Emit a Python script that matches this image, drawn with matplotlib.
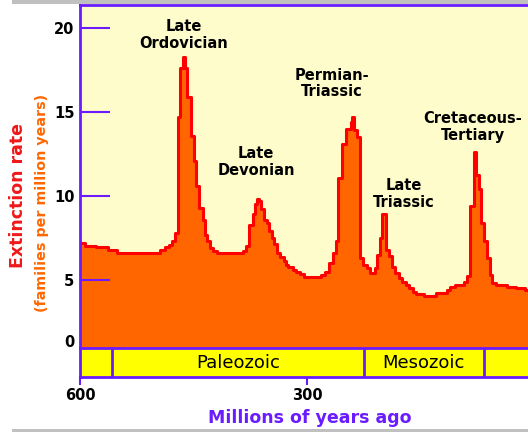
import matplotlib.pyplot as plt
from matplotlib.patches import Rectangle

# Extinction rate (families per million years), step curve
ages = [600, 593, 579, 563, 551, 494, 488, 482, 478, 474, 471, 468, 464, 461,
        459, 453, 449, 447, 443, 438, 435, 432, 428, 424, 419, 384, 380, 376,
        372, 369, 366, 363, 361, 357, 353, 350, 346, 344, 339, 336, 331, 328,
        325, 319, 314, 309, 304, 282, 276, 271, 266, 262, 259, 254, 248, 242,
        240, 238, 234, 230, 226, 221, 217, 210, 207, 204, 201, 196, 191, 188,
        184, 179, 175, 169, 165, 160, 156, 146, 130, 115, 111, 104, 93, 88,
        84, 79, 76, 73, 70, 66, 62, 58, 55, 50, 36, 24, 12, 0]
rates = [7.2, 7.05, 6.95, 6.8, 6.6, 6.8, 6.95, 7.1, 7.3, 7.8, 14.7, 17.6, 18.3, 17.6,
         15.9, 13.6, 12.1, 10.6, 9.3, 8.6, 7.7, 7.3, 6.9, 6.75, 6.6, 6.75, 7.0, 8.3,
         8.9, 9.5, 9.8, 9.7, 9.2, 8.6, 8.4, 7.9, 7.5, 7.15, 6.6, 6.35, 6.1, 5.9,
         5.75, 5.6, 5.5, 5.35, 5.15, 5.3, 5.5, 6.0, 6.6, 7.3, 11.05, 13.1, 14.0, 14.4,
         14.7, 13.9, 13.5, 6.3, 5.9, 5.7, 5.4, 5.7, 6.5, 7.5, 8.9, 6.8, 6.4, 5.8,
         5.4, 5.1, 4.85, 4.7, 4.5, 4.3, 4.15, 4.05, 4.2, 4.4, 4.6, 4.7, 4.9, 5.25,
         9.4, 12.6, 11.25, 10.4, 8.4, 7.3, 6.3, 5.3, 4.8, 4.7, 4.6, 4.5, 4.4, 4.4]

# mass extinction labels
events = ['Late\nOrdovician', 'Late\nDevonian', 'Permian-\nTriassic',
          'Late\nTriassic', 'Cretaceous-\nTertiary']
event_age = [463, 367, 267, 172, 81]
event_rate = [19.6, 12.0, 16.7, 10.1, 14.1]

# geologic eras along the bottom
era_bounds = [600, 558, 225, 66, 0]
era_names = ['', 'Paleozoic', 'Mesozoic', '']

purple = '#6a1bff'
W, H = 528, 432

fig = plt.figure(figsize=(W / 100, H / 100), dpi=100)

# main plot
ax = fig.add_axes([80 / W, 1 - 348 / H, 454 / W, 343 / H])
ax.set_facecolor('#fffccc')
ax.fill_between(ages, rates, 0, step='post', color='#ff6600', lw=0)
ax.plot(ages, rates, drawstyle='steps-post', color='#ff0000', lw=2.2)
ax.set_xlim(600, 0)
ax.set_ylim(0.95, 21.37)
ax.set_xticks([])
ax.set_yticks([5, 10, 15, 20])
ax.tick_params(axis='y', direction='in', length=21.6, width=1.5, color=purple,
               pad=4, labelsize=10.5)
plt.setp(ax.get_yticklabels(), fontweight='bold')
ax.text(-0.013, 1.25, '0', transform=ax.get_yaxis_transform(), ha='right',
        va='center', fontsize=10.5, fontweight='bold')
for side in ['left', 'top']:
    ax.spines[side].set_color(purple)
    ax.spines[side].set_linewidth(2)
ax.spines['bottom'].set_visible(False)
ax.spines['right'].set_visible(False)

for name, x, y in zip(events, event_age, event_rate):
    ax.text(x, y, name, ha='center', va='center', fontsize=10.5,
            fontweight='bold', linespacing=1.15)

# era bar
ex = fig.add_axes([80 / W, 1 - 377 / H, 454 / W, 29 / H])
ex.set_facecolor('#ffff00')
ex.set_xlim(600, 0)
ex.set_ylim(0, 1)
for i in range(len(era_names)):
    lo, hi = era_bounds[i], era_bounds[i + 1]
    if i > 0:
        ex.axvline(lo, color=purple, lw=2)
    if era_names[i]:
        ex.text((lo + hi) / 2, 0.5, era_names[i], ha='center', va='center',
                fontsize=13)
ex.set_yticks([])
ex.set_xticks([600, 300, 0])
ex.set_xticklabels(['600', '300', '0'], fontweight='bold', fontsize=10.5)
ex.tick_params(axis='x', direction='out', length=6, width=1.5, color=purple, pad=2)
for side in ['left', 'top', 'bottom']:
    ex.spines[side].set_color(purple)
    ex.spines[side].set_linewidth(2)
ex.spines['right'].set_visible(False)

# axis titles
fig.text(310 / W, 1 - 418 / H, 'Millions of years ago', color=purple,
         fontsize=12.5, fontweight='bold', ha='center', va='center')
fig.text(18 / W, 1 - 195 / H, 'Extinction rate', rotation=90, color='#f01818',
         fontsize=12.5, fontweight='bold', ha='center', va='center')
fig.text(42 / W, 1 - 203 / H, '(families per million years)', rotation=90,
         color='#ff6600', fontsize=10.3, fontweight='bold', ha='center', va='center')

# grey frame strips at top and bottom
fig.add_artist(Rectangle((12 / W, 1 - 4 / H), 1, 4 / H, transform=fig.transFigure,
                         color='#c0c0c0', lw=0))
fig.add_artist(Rectangle((12 / W, 0), 1, 3 / H, transform=fig.transFigure,
                         color='#c0c0c0', lw=0))

fig.savefig('out.png', dpi=100)
